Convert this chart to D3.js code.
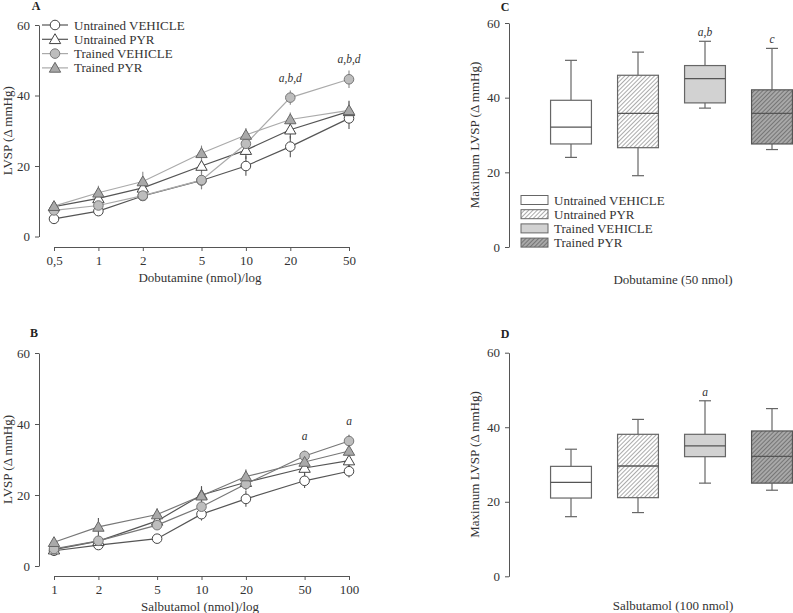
<!DOCTYPE html>
<html><head><meta charset="utf-8">
<script src="https://cdn.jsdelivr.net/npm/d3@7"></script>
<style>body{margin:0;background:#fff}svg{display:block;font-family:"Liberation Serif","Times New Roman",serif}</style>
</head><body>
<script>
const seriesNames = ["Untrained VEHICLE","Untrained PYR","Trained VEHICLE","Trained PYR"];
const dobDoses = [0.5,1,2,5,10,20,50];
const dobTickLabels = ["0,5","1","2","5","10","20","50"];
const dobUntrainedVeh = [5.0,7.2,11.5,15.9,20.0,25.5,33.5];
const dobUntrainedPyr = [8.5,10.8,13.8,20.0,24.5,30.3,35.5];
const dobTrainedVeh   = [7.4,8.8,11.6,16.0,26.3,39.4,44.6];
const dobTrainedPyr   = [8.6,12.4,15.6,23.6,28.8,33.2,35.8];
const dobUntrainedVehSem = [0.8,1.2,1.2,2.5,2.8,3.0,3.0];
const dobUntrainedPyrSem = [1.0,1.5,1.5,2.0,2.5,2.5,3.0];
const dobTrainedVehSem   = [1.0,1.2,1.0,2.5,2.5,2.0,2.5];
const dobTrainedPyrSem   = [1.2,2.0,2.8,2.2,2.0,2.0,2.5];
const dobAnnot = [{dose:20,value:39.4,text:"a,b,d"},{dose:50,value:44.6,text:"a,b,d"}];

const salDoses = [1,2,5,10,20,50,100];
const salTickLabels = ["1","2","5","10","20","50","100"];
const salUntrainedVeh = [4.3,5.9,7.7,14.6,18.9,24.0,26.7];
const salUntrainedPyr = [4.6,7.0,12.7,20.0,23.6,27.6,29.7];
const salTrainedVeh   = [4.8,7.1,11.5,16.7,23.1,31.0,35.2];
const salTrainedPyr   = [6.7,11.0,14.5,19.8,25.2,29.3,32.4];
const salUntrainedVehSem = [0.8,1.0,1.0,1.8,2.2,2.0,1.8];
const salUntrainedPyrSem = [0.8,1.2,1.5,2.5,2.0,2.0,2.0];
const salTrainedVehSem   = [0.8,1.0,1.2,1.5,1.8,1.5,1.8];
const salTrainedPyrSem   = [0.8,2.5,1.8,2.5,2.0,2.0,2.0];
const salAnnot = [{dose:50,value:31.0,text:"a"},{dose:100,value:35.2,text:"a"}];

const yTicks = [0,20,40,60];

// box plots: [whiskerLow, Q1, median, Q3, whiskerHigh]
const dobBoxes = [[24.0,27.6,32.1,39.3,50.0],[19.1,26.6,35.8,46.0,52.2],[37.2,38.6,45.1,48.6,55.1],[26.1,27.6,35.8,42.1,53.2]];
const dobBoxAnnot = ["","","a,b","c"];
const salBoxes = [[16.0,21.0,25.2,29.5,34.1],[17.1,21.1,29.6,38.1,42.1],[25.0,32.1,35.0,38.1,47.1],[23.1,25.0,32.2,39.0,45.0]];
const salBoxAnnot = ["","","a",""];

const W=793,H=613;
const svg=d3.select("body").append("svg").attr("width",W).attr("height",H);
const defs=svg.append("defs");
function hatch(id,bg,stroke){
  const p=defs.append("pattern").attr("id",id).attr("patternUnits","userSpaceOnUse")
    .attr("width",3).attr("height",3).attr("patternTransform","rotate(45)");
  p.append("rect").attr("width",3).attr("height",3).attr("fill",bg);
  p.append("line").attr("x1",0).attr("y1",0).attr("x2",0).attr("y2",3).attr("stroke",stroke).attr("stroke-width",1.1);
}
hatch("h1","#ffffff","#666");
hatch("h2","#a8a8a8","#4a4a4a");
const boxFills=["#ffffff","url(#h1)","#d2d2d2","url(#h2)"];

const axisColor="#555", textColor="#333";
const fs=13;

function styleAxis(g){
  g.selectAll("path,line").attr("stroke",axisColor);
  g.selectAll("text").attr("fill",textColor).style("font-size",fs+"px").style("font-family","Liberation Serif, serif");
}

function linePanel(o){
  const x=d3.scaleLog().domain([o.doses[0],o.doses[o.doses.length-1]]).range([54,349]);
  const y=d3.scaleLinear().domain([0,60]).range([o.y0,o.y60]);
  const g=svg.append("g");
  const ya=g.append("g").attr("transform","translate(39,0)").call(d3.axisLeft(y).tickValues(yTicks).tickSize(4).tickPadding(5).tickSizeOuter(0));
  styleAxis(ya);
  const xa=g.append("g").attr("transform",`translate(0,${o.xAxisY})`).call(d3.axisBottom(x).tickValues(o.doses).tickFormat((d,i)=>o.labels[i]).tickSize(4).tickPadding(5).tickSizeOuter(0));
  styleAxis(xa);
  g.append("text").attr("x",200).attr("y",o.xAxisY+35).attr("text-anchor","middle").attr("fill",textColor).style("font-size",fs+"px").text(o.xTitle);
  g.append("text").attr("transform",`translate(12,${(o.y0+o.y60)/2}) rotate(-90)`).attr("text-anchor","middle").attr("fill",textColor).style("font-size",fs+"px").text("LVSP (\u0394 mmHg)");
  g.append("text").attr("x",o.labelX).attr("y",o.labelY).attr("text-anchor","middle").attr("font-weight","bold").attr("fill","#222").style("font-size","12px").text(o.panel);
  const line=d3.line().x((d,i)=>x(o.doses[i])).y(d=>y(d));
  o.series.forEach((s,k)=>{
    g.append("path").datum(s).attr("d",line).attr("fill","none").attr("stroke",o.lineColors[k]).attr("stroke-width",1.2);
  });
  o.series.forEach((s,k)=>{
    g.selectAll(null).data(s).enter().append("line")
      .attr("x1",(d,i)=>x(o.doses[i])).attr("x2",(d,i)=>x(o.doses[i]))
      .attr("y1",(d,i)=>y(d+o.sems[k][i])).attr("y2",(d,i)=>y(d-o.sems[k][i]))
      .attr("stroke",o.lineColors[k]==="#aaa"?"#888":"#555").attr("stroke-width",1.1);
  });
  o.series.forEach((s,k)=>{
    const isTri=k%2===1;
    const sym=d3.symbol().type(isTri?d3.symbolTriangle:d3.symbolCircle).size(isTri?56:72);
    g.selectAll(null).data(s).enter().append("path").attr("d",sym)
      .attr("transform",(d,i)=>`translate(${x(o.doses[i])},${y(d)+(isTri?1:0)})`)
      .attr("fill",o.markerFill[k]).attr("stroke",o.markerStroke[k]).attr("stroke-width",1);
  });
  o.annot.forEach(a=>{
    g.append("text").attr("x",x(a.dose)).attr("y",y(a.value)-16).attr("text-anchor","middle").attr("font-style","italic").attr("fill",textColor).style("font-size","11.5px").text(a.text);
  });
  return g;
}

const markerFill=["#fff","#fff","#bdbdbd","#a9a9a9"];
const markerStroke=["#444","#444","#777","#666"];

const gA=linePanel({doses:dobDoses,labels:dobTickLabels,y0:236.5,y60:25,xAxisY:247,xTitle:"Dobutamine (nmol)/log",panel:"A",labelX:36,labelY:10,
  series:[dobUntrainedVeh,dobUntrainedPyr,dobTrainedVeh,dobTrainedPyr],
  sems:[dobUntrainedVehSem,dobUntrainedPyrSem,dobTrainedVehSem,dobTrainedPyrSem],
  lineColors:["#555","#555","#aaa","#aaa"],markerFill,markerStroke,annot:dobAnnot});
linePanel({doses:salDoses,labels:salTickLabels,y0:566,y60:353,xAxisY:576,xTitle:"Salbutamol (nmol)/log",panel:"B",labelX:34,labelY:337,
  series:[salUntrainedVeh,salUntrainedPyr,salTrainedVeh,salTrainedPyr],
  sems:[salUntrainedVehSem,salUntrainedPyrSem,salTrainedVehSem,salTrainedPyrSem],
  lineColors:["#555","#555","#777","#777"],markerFill,markerStroke,annot:salAnnot});

// legend A
const legA=gA.append("g");
seriesNames.forEach((n,k)=>{
  const yy=25+k*14.3;
  const isTri=k%2===1;
  legA.append("line").attr("x1",42).attr("x2",68).attr("y1",yy).attr("y2",yy).attr("stroke",k<2?"#555":"#aaa").attr("stroke-width",1.2);
  legA.append("path").attr("d",d3.symbol().type(isTri?d3.symbolTriangle:d3.symbolCircle).size(isTri?56:72)).attr("transform",`translate(55,${yy+(isTri?1:0)})`)
    .attr("fill",markerFill[k]).attr("stroke",markerStroke[k]);
  legA.append("text").attr("x",74).attr("y",yy+4.5).attr("fill",textColor).style("font-size",fs+"px").text(n);
});

function boxPanel(o){
  const x=d3.scaleBand().domain(seriesNames).range([537.5,805.5]).paddingInner(0.39).paddingOuter(0.195);
  const y=d3.scaleLinear().domain([0,60]).range([o.y0,o.y60]);
  const g=svg.append("g");
  const ya=g.append("g").attr("transform","translate(509,0)").call(d3.axisLeft(y).tickValues(yTicks).tickSize(4).tickPadding(5).tickSizeOuter(0));
  styleAxis(ya);
  g.append("text").attr("transform",`translate(479,${(o.y0+o.y60)/2}) rotate(-90)`).attr("text-anchor","middle").attr("fill",textColor).style("font-size",fs+"px").text("Maximum LVSP (\u0394 mmHg)");
  g.append("text").attr("x",505).attr("y",o.labelY).attr("text-anchor","middle").attr("font-weight","bold").attr("fill","#222").style("font-size","12px").text(o.panel);
  g.append("text").attr("x",673).attr("y",o.titleY).attr("text-anchor","middle").attr("fill",textColor).style("font-size",fs+"px").text(o.xTitle);
  o.boxes.forEach((b,k)=>{
    const x0=x(seriesNames[k]),bw=x.bandwidth(),cx=x0+bw/2;
    const st=k===3?"#555":"#666";
    g.append("line").attr("x1",cx).attr("x2",cx).attr("y1",y(b[0])).attr("y2",y(b[1])).attr("stroke","#666").attr("stroke-width",1.2);
    g.append("line").attr("x1",cx).attr("x2",cx).attr("y1",y(b[3])).attr("y2",y(b[4])).attr("stroke","#666").attr("stroke-width",1.2);
    [b[0],b[4]].forEach(v=>g.append("line").attr("x1",cx-6).attr("x2",cx+6).attr("y1",y(v)).attr("y2",y(v)).attr("stroke","#666").attr("stroke-width",1.2));
    g.append("rect").attr("x",x0).attr("width",bw).attr("y",y(b[3])).attr("height",y(b[1])-y(b[3])).attr("fill",boxFills[k]).attr("stroke",st).attr("stroke-width",1.2);
    g.append("line").attr("x1",x0).attr("x2",x0+bw).attr("y1",y(b[2])).attr("y2",y(b[2])).attr("stroke","#555").attr("stroke-width",1.3);
    if(o.annot[k]) g.append("text").attr("x",cx).attr("y",y(b[4])-5).attr("text-anchor","middle").attr("font-style","italic").attr("fill",textColor).style("font-size","11.5px").text(o.annot[k]);
  });
  return g;
}
const gC=boxPanel({boxes:dobBoxes,annot:dobBoxAnnot,y0:247,y60:23,panel:"C",labelY:11,xTitle:"Dobutamine (50 nmol)",titleY:284});
boxPanel({boxes:salBoxes,annot:salBoxAnnot,y0:576.3,y60:352.7,panel:"D",labelY:338,xTitle:"Salbutamol (100 nmol)",titleY:610});

// legend C
seriesNames.forEach((n,k)=>{
  const yy=200+k*14.2;
  gC.append("rect").attr("x",521).attr("y",yy-4.5).attr("width",27).attr("height",9).attr("fill",boxFills[k]).attr("stroke","#666").attr("stroke-width",1);
  gC.append("text").attr("x",554).attr("y",yy+4.5).attr("fill",textColor).style("font-size",fs+"px").text(n);
});
</script>
</body></html>
